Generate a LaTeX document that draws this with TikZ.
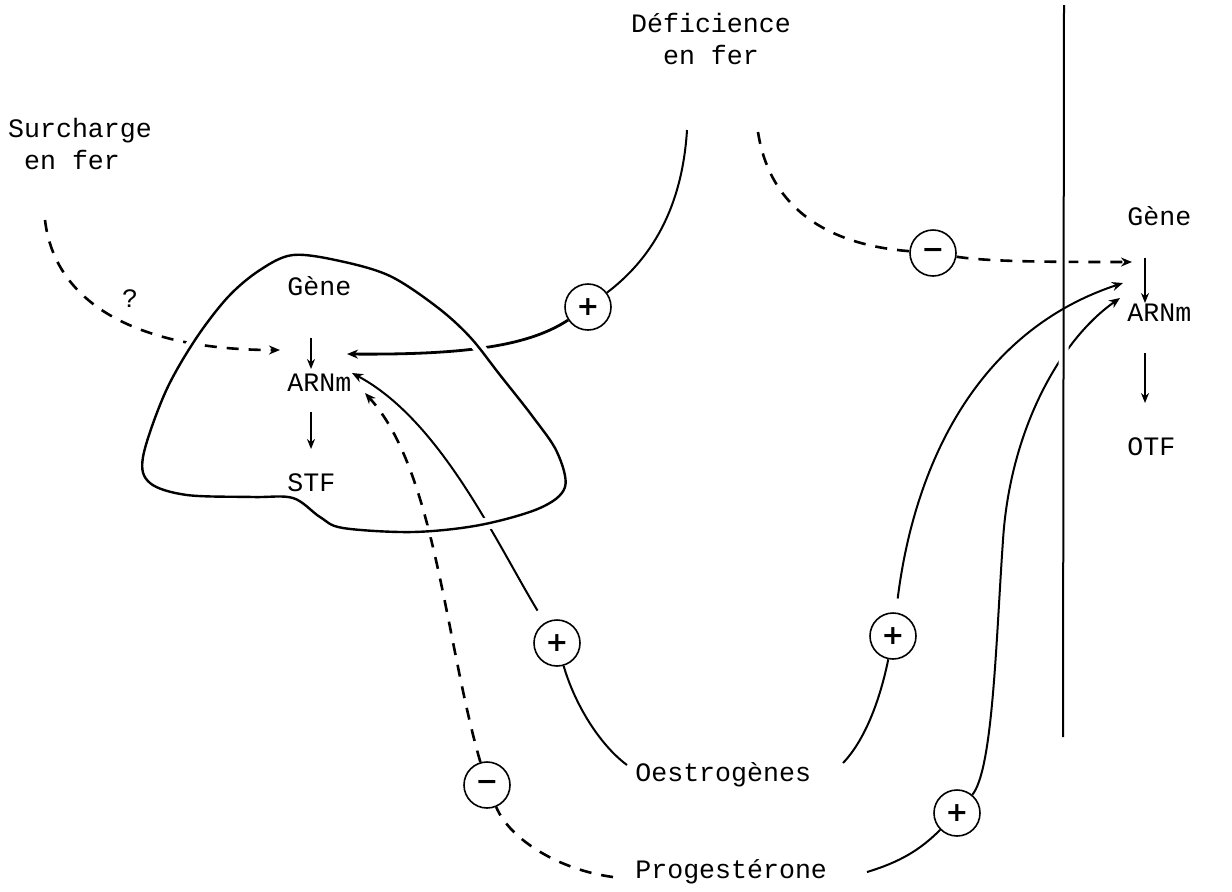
\documentclass[tikz,border=0pt]{standalone}
\usepackage{fontspec}
\setmainfont{Liberation Serif}
\newfontfamily\tw{Liberation Mono}
\newfontfamily\symf{DejaVu Sans}
\usetikzlibrary{arrows.meta}
\begin{document}
\begin{tikzpicture}[x=0.5pt,y=-0.5pt,
  lbl/.style={font=\tw\fontsize{13.3}{16}\selectfont, inner sep=0pt},
  sign/.style={circle, draw, line width=0.8pt, minimum size=23pt, inner sep=0pt,
    font=\symf\bfseries\fontsize{13.5}{13.5}\selectfont},
  solidline/.style={line width=1pt},
  thickline/.style={line width=1.4pt},
  dashline/.style={line width=1.3pt, dash pattern=on 6pt off 5pt},
  tip/.style={-{Stealth[length=5.5pt,width=4.5pt]}},
  smalltip/.style={line width=0.9pt, -{Stealth[length=5pt,width=4pt]}},
  blobline/.style={line width=1.2pt, preaction={draw=white, line width=6pt}}]
\useasboundingbox (0,0) rectangle (1232,891);

% labels
\node[lbl, align=center] (defic) at (711,39) {Déficience\\en fer};
\node[lbl, align=left] (surch) at (80,144) {Surcharge\\\hspace*{0.6em}en fer};
\node[lbl] (q) at (130,299) {?};
\node[lbl, anchor=base west] (gA) at (287,295) {Gène};
\node[lbl, anchor=base west] (rA) at (287,391) {ARNm};
\node[lbl, anchor=base west] (sA) at (287,491) {STF};
\node[lbl, anchor=base west] (gB) at (1127,225) {Gène};
\node[lbl, anchor=base west] (rB) at (1127,321) {ARNm};
\node[lbl, anchor=base west] (oB) at (1127,455) {OTF};
\node[lbl, anchor=base west] (oest) at (635,781) {Oestrogènes};
\node[lbl, anchor=base west] (prog) at (635,878) {Progestérone};

% signs
\node[sign] (cp1) at (588,307) {+};
\node[sign] (cm1) at (933,253) {−};
\node[sign] (cp2) at (557,643) {+};
\node[sign] (cp3) at (893,636) {+};
\node[sign] (cm2) at (487,785) {−};
\node[sign] (cp4) at (957,813) {+};

% free ends
\coordinate (s0) at (45,220);
\coordinate (tA) at (280,350);
\coordinate (d0) at (687,130);
\coordinate (tA2) at (347,354);
\coordinate (d1) at (758,132);
\coordinate (tC) at (1132,262);
\coordinate (o1) at (627,765);
\coordinate (tB) at (352,373);
\coordinate (o3) at (843,763);
\coordinate (tD) at (1123,283);
\coordinate (p0) at (613,877);
\coordinate (tE) at (365,393);
\coordinate (p1) at (867,872);
\coordinate (tF) at (1120,298);
\coordinate (vl0) at (1064,5);
\coordinate (vl1) at (1063,737);
\coordinate (a1s) at (311,338);
\coordinate (a1e) at (311,369);
\coordinate (a2s) at (311,412);
\coordinate (a2e) at (311,449);
\coordinate (b1s) at (1145,258);
\coordinate (b1e) at (1145,303);
\coordinate (b2s) at (1145,353);
\coordinate (b2e) at (1145,403);

% connectors into the left gene
\draw[dashline, tip] (s0) .. controls (55,305) and (140,350) .. (tA);
\draw[solidline] (d0) .. controls (682,210) and (650,260) .. (cp1);
\draw[thickline, tip] (cp1) .. controls (530,345) and (470,355) .. (tA2);
\draw[solidline] (o1) .. controls (600,745) and (575,705) .. (cp2);
\draw[solidline, tip, shorten <=7pt] (cp2) .. controls (495,540) and (440,420) .. (tB);
\draw[dashline] (p0) .. controls (560,870) and (510,840) .. (cm2);
\draw[dashline, tip] (cm2) .. controls (445,640) and (435,470) .. (tE);

% cell outline
\draw[blobline] plot[smooth cycle, tension=0.55] coordinates {
  (293,255) (340,261) (390,276) (437,307) (470,337) (500,375) (533,417)
  (557,452) (565,487) (540,508) (480,525) (413,532) (343,528) (320,517)
  (293,498) (253,497) (187,495) (150,483) (143,457) (165,393) (195,340)
  (228,297) (260,270)};

% right side
\draw[dashline] (d1) .. controls (770,210) and (830,245) .. (cm1);
\draw[dashline, tip] (cm1) .. controls (990,262) and (1060,262) .. (tC);
\draw[solidline] (p1) .. controls (900,862) and (920,850) .. (cp4);
\draw[solidline, tip] (cp4) .. controls (993,770) and (996,640) .. (1003,540)
   .. controls (1010,430) and (1060,340) .. (tF);
\draw[line width=1pt, preaction={draw=white, line width=5pt}] (vl0) -- (vl1);
\draw[solidline] (o3) .. controls (865,740) and (880,700) .. (cp3);
\draw[solidline, tip, shorten <=7pt] (cp3) .. controls (915,460) and (980,330) .. (tD);

% small arrows
\draw[smalltip] (a1s) -- (a1e);
\draw[smalltip] (a2s) -- (a2e);
\draw[smalltip] (b1s) -- (b1e);
\draw[smalltip] (b2s) -- (b2e);
\end{tikzpicture}
\end{document}
